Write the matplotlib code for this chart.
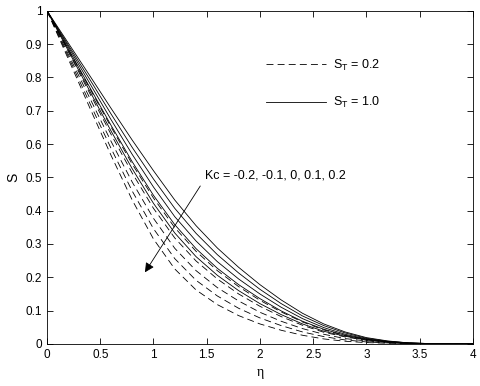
import numpy as np
import matplotlib
matplotlib.use("Agg")
import matplotlib.pyplot as plt

plt.rcParams['font.family'] = ['Liberation Sans', 'DejaVu Sans']
plt.rcParams['lines.scale_dashes'] = False

eta = [0, 0.2, 0.4, 0.6, 0.8, 1.0, 1.2, 1.4, 1.6, 1.8, 2.0,
       2.2, 2.4, 2.6, 2.8, 3.0, 3.2, 3.4, 3.6, 3.8, 4.0]

# S_T = 1.0 (solid), Kc = -0.2, -0.1, 0, 0.1, 0.2
s_solid = [
    [1, .903, .806, .708, .612, .520, .432, .355, .288, .230, .178, .132, .092, .060, .036, .019, .009, .003, .001, 0, 0],
    [1, .897, .795, .691, .590, .495, .407, .332, .268, .213, .164, .121, .084, .055, .033, .017, .008, .003, .001, 0, 0],
    [1, .892, .783, .674, .569, .471, .382, .309, .247, .195, .150, .110, .076, .049, .029, .015, .007, .003, .001, 0, 0],
    [1, .886, .771, .657, .547, .446, .358, .286, .227, .178, .136, .099, .068, .044, .026, .014, .006, .002, .001, 0, 0],
    [1, .880, .760, .640, .526, .422, .333, .262, .206, .160, .121, .088, .060, .038, .023, .012, .006, .002, .001, 0, 0],
]
# S_T = 0.2 (dashed)
s_dashed = [
    [1, .884, .768, .652, .540, .438, .349, .278, .220, .172, .131, .096, .066, .042, .025, .013, .006, .002, .001, 0, 0],
    [1, .877, .753, .630, .513, .407, .318, .249, .195, .150, .113, .082, .056, .035, .021, .011, .005, .002, .001, 0, 0],
    [1, .869, .739, .609, .486, .377, .287, .220, .169, .129, .095, .068, .046, .029, .016, .009, .004, .002, 0, 0, 0],
    [1, .862, .724, .588, .459, .346, .256, .191, .144, .107, .078, .055, .036, .022, .012, .006, .003, .001, 0, 0, 0],
    [1, .855, .710, .567, .432, .315, .225, .162, .118, .085, .060, .041, .026, .015, .008, .004, .002, .001, 0, 0, 0],
]

fig = plt.figure(figsize=(4.8, 3.86), dpi=100)
ax = fig.add_axes([0.098, 0.109, 0.887, 0.863])

dashed_lines = []
for s in s_dashed:
    l, = ax.plot(eta, s, color='black', lw=0.6, dashes=(5, 3))
    dashed_lines.append(l)
solid_lines = []
for s in s_solid:
    l, = ax.plot(eta, s, color='black', lw=0.6)
    solid_lines.append(l)

ax.set_xlim(0, 4)
ax.set_ylim(0, 1)
ax.set_xticks(np.arange(0, 4.01, 0.5))
ax.set_xticklabels(['0', '0.5', '1', '1.5', '2', '2.5', '3', '3.5', '4'])
ax.set_yticks(np.arange(0, 1.01, 0.1))
ax.set_yticklabels(['0', '0.1', '0.2', '0.3', '0.4', '0.5', '0.6', '0.7', '0.8', '0.9', '1'])
ax.tick_params(direction='in', top=True, right=True, length=4, width=0.6, labelsize=8.5)
for sp in ax.spines.values():
    sp.set_linewidth(0.6)

ax.set_xlabel('η', family=['Liberation Serif', 'DejaVu Serif'], fontsize=10)
ax.set_ylabel('S', fontsize=10)

ax.legend([dashed_lines[0], solid_lines[0]], ['S$_\\mathregular{T}$ = 0.2', 'S$_\\mathregular{T}$ = 1.0'],
          loc='upper left', bbox_to_anchor=(0.487, 0.893), frameon=False,
          handlelength=4.8, handletextpad=0.6, labelspacing=1.8, fontsize=9)

ax.annotate('Kc = -0.2, -0.1, 0, 0.1, 0.2', xy=(0.92, 0.215), xytext=(1.48, 0.505),
            fontsize=9, ha='left', va='center',
            arrowprops=dict(arrowstyle='-|>', color='black', lw=0.6,
                            mutation_scale=14, shrinkA=2, shrinkB=0,
                            relpos=(0, 0.2)))

fig.savefig('out.png', dpi=100)
